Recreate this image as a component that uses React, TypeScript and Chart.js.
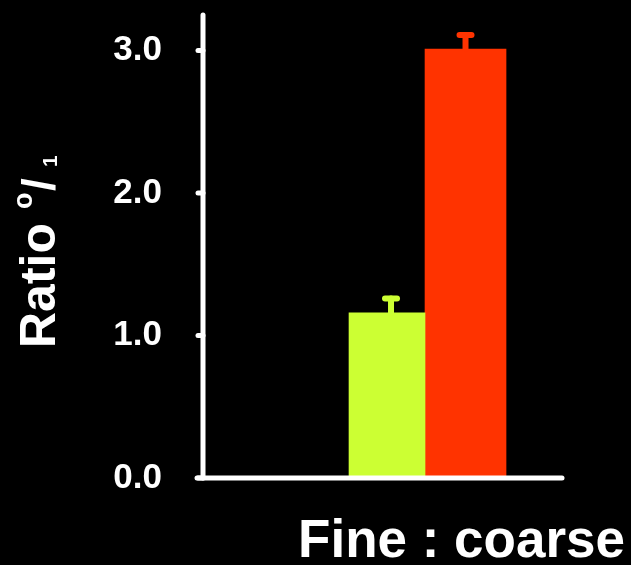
import React, { useEffect, useRef } from "react";
import { Chart, registerables } from "chart.js";

Chart.register(...registerables);

// ---- data ----
const categories = ["Fine", "Coarse"];
const xPositions = [1, 2];
const values = [1.16, 3.01];
const errorUpper = [1.26, 3.11];
const barColors = ["#ccff33", "#ff3300"];
const yTicks = [0, 1, 2, 3];
const yTickLabels = ["0.0", "1.0", "2.0", "3.0"];
const xTitle = "Fine : coarse";
const yTitleMain = "Ratio";
const yTitleSup = "o";
const yTitleSlash = "/";
const yTitleSub = "1";

const FONT = "'Liberation Sans', Arial, Helvetica, sans-serif";
const errStemShift = [4, 0];

const errorBarPlugin = {
  id: "errorBars",
  afterDatasetsDraw(chart: any) {
    const { ctx } = chart;
    const yScale = chart.scales.y;
    chart.data.datasets.forEach((ds: any, i: number) => {
      const meta = chart.getDatasetMeta(i);
      meta.data.forEach((el: any, j: number) => {
        const top = yScale.getPixelForValue(ds.errUpper[j]);
        const cx = el.x + errStemShift[i];
        ctx.save();
        ctx.strokeStyle = ds.backgroundColor;
        ctx.lineWidth = 6;
        ctx.lineCap = "round";
        ctx.beginPath();
        ctx.moveTo(cx, el.y);
        ctx.lineTo(cx, top);
        ctx.stroke();
        ctx.beginPath();
        ctx.moveTo(cx - 6, top);
        ctx.lineTo(cx + 6, top);
        ctx.stroke();
        ctx.restore();
      });
    });
  },
};

const axesPlugin = {
  id: "axesAndTitles",
  afterDraw(chart: any) {
    const { ctx, chartArea } = chart;
    const yScale = chart.scales.y;
    ctx.save();
    ctx.strokeStyle = "#ffffff";
    ctx.lineWidth = 5;
    ctx.lineCap = "round";
    // y axis
    ctx.beginPath();
    ctx.moveTo(chartArea.left, chartArea.top);
    ctx.lineTo(chartArea.left, chartArea.bottom);
    ctx.stroke();
    // x axis
    ctx.beginPath();
    ctx.moveTo(chartArea.left - 6, chartArea.bottom);
    ctx.lineTo(chartArea.right, chartArea.bottom);
    ctx.stroke();
    // tick marks
    yTicks.forEach((v) => {
      const py = yScale.getPixelForValue(v);
      ctx.beginPath();
      ctx.moveTo(chartArea.left - 5, py);
      ctx.lineTo(chartArea.left, py);
      ctx.stroke();
    });

    ctx.fillStyle = "#ffffff";
    // x title
    ctx.font = `bold 53px ${FONT}`;
    ctx.textAlign = "right";
    ctx.textBaseline = "alphabetic";
    ctx.fillText(xTitle, 625, 557);

    // y title (rotated)
    ctx.translate(55, 348);
    ctx.rotate(-Math.PI / 2);
    ctx.textAlign = "left";
    ctx.font = `bold 50px ${FONT}`;
    ctx.fillText(yTitleMain, 0, 0);
    ctx.font = `bold 27px ${FONT}`;
    ctx.fillText(yTitleSup, 139, -23);
    ctx.font = `bold 46px ${FONT}`;
    ctx.fillText(yTitleSlash, 157, 0);
    ctx.font = `bold 21px ${FONT}`;
    ctx.fillText(yTitleSub, 181, 2);
    ctx.restore();
  },
};

export default function App() {
  const ref = useRef<HTMLCanvasElement | null>(null);

  useEffect(() => {
    if (!ref.current) return;
    const chart = new Chart(ref.current, {
      type: "bar",
      data: {
        datasets: categories.map((c, i) => ({
          label: c,
          data: [{ x: xPositions[i], y: values[i] }],
          backgroundColor: barColors[i],
          borderWidth: 0,
          barThickness: i === 0 ? 76 : 81,
          grouped: false,
          errUpper: [errorUpper[i]],
        })) as any,
      },
      options: {
        animation: false,
        responsive: false,
        maintainAspectRatio: false,
        layout: { padding: { left: 0, right: 69, top: 15, bottom: 87 } },
        plugins: {
          legend: { display: false },
          tooltip: { enabled: false },
          title: { display: false },
        },
        scales: {
          x: {
            type: "linear",
            display: false,
            offset: false,
            min: -1.344,
            max: 3.229,
          },
          y: {
            type: "linear",
            min: 0,
            max: 3.25,
            grid: { display: false, drawTicks: false },
            border: { display: false },
            afterBuildTicks: (scale: any) => {
              scale.ticks = yTicks.map((v) => ({ value: v }));
            },
            afterFit: (scale: any) => {
              scale.width = 203;
              scale.paddingTop = 0;
              scale.paddingBottom = 0;
            },
            ticks: {
              color: "#ffffff",
              padding: 41,
              font: { family: FONT, size: 35, weight: "bold", lineHeight: 0.8 },
              callback: (v: any) => {
                const idx = yTicks.indexOf(Number(v));
                return idx >= 0 ? yTickLabels[idx] : "";
              },
            },
          },
        },
      },
      plugins: [errorBarPlugin, axesPlugin],
    });
    return () => chart.destroy();
  }, []);

  return (
    <div
      style={{
        position: "fixed",
        left: 0,
        top: 0,
        width: 631,
        height: 565,
        background: "#000000",
      }}
    >
      <canvas ref={ref} width={631} height={565} style={{ display: "block" }} />
    </div>
  );
}
